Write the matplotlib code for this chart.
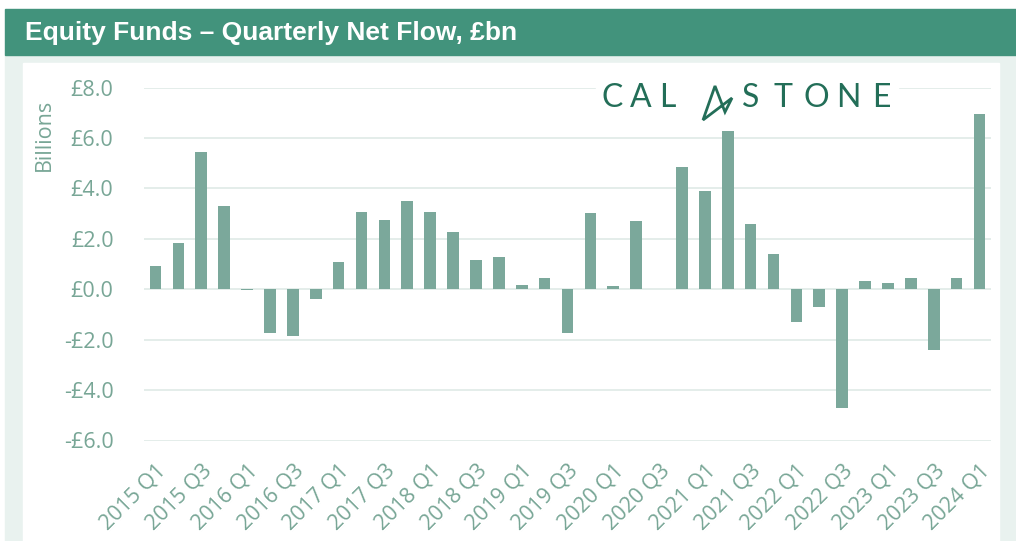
"""Equity Funds - Quarterly Net Flow (Calastone style bar chart)."""

import matplotlib

matplotlib.use("Agg")
import matplotlib.pyplot as plt
from matplotlib.patches import Polygon, Rectangle

# quarterly net flow, £bn
quarters = [f"{y} Q{q}" for y in range(2015, 2025) for q in (1, 2, 3, 4)][:37]
net_flow = [
    0.94, 1.84, 5.45, 3.32,      # 2015
    -0.03, -1.75, -1.85, -0.38,  # 2016
    1.08, 3.08, 2.76, 3.49,      # 2017
    3.08, 2.29, 1.15, 1.28,      # 2018
    0.18, 0.44, -1.72, 3.04,     # 2019
    0.12, 2.70, 0.0, 4.87,       # 2020
    3.89, 6.27, 2.59, 1.39,      # 2021
    -1.28, -0.69, -4.71, 0.33,   # 2022
    0.26, 0.44, -2.42, 0.44,     # 2023
    6.96,                        # 2024
]
y_ticks = [-6, -4, -2, 0, 2, 4, 6, 8]

HEADER_GREEN = "#42937C"
PANEL_BG = "#E9F2EF"
BAR_GREEN = "#7BA89B"
TEXT_GREEN = "#78A696"
GRID = "#E2ECE8"
LOGO_GREEN = "#236E58"

W, H = 1016, 541
fig = plt.figure(figsize=(W / 100, H / 100), dpi=100)


def pixel_axes(zorder):
    """Full-figure axes in pixel coords (y down) for decoration."""
    a = fig.add_axes([0, 0, 1, 1], zorder=zorder)
    a.set_xlim(0, W)
    a.set_ylim(H, 0)
    a.axis("off")
    return a


# header band + light panel + white chart area
bg = pixel_axes(-10)
bg.add_patch(Rectangle((5, 55), W - 5, H - 55, color=PANEL_BG))
bg.add_patch(Rectangle((23, 63), 999 - 23, H - 63, color="white"))
bg.add_patch(Rectangle((5, 9), W - 5, 46, color=HEADER_GREEN))
bg.text(25, 33, "Equity Funds \u2013 Quarterly Net Flow, \u00a3bn",
        color="white", fontsize=19, fontweight="bold", family="Liberation Sans",
        va="center", ha="left")

ax = fig.add_axes([144 / W, 1 - 440.5 / H, (991 - 144) / W, (440.5 - 87.7) / H], zorder=1)
ax.set_facecolor("none")
x = list(range(len(net_flow)))
ax.bar(x, net_flow, width=0.51, color=BAR_GREEN, zorder=3)
ax.set_xlim(-0.5, len(net_flow) - 0.5)
ax.set_ylim(-6, 8)
ax.set_yticks(y_ticks)
ax.set_yticklabels([f"\u00a3{v:.1f}" if v >= 0 else f"-\u00a3{abs(v):.1f}" for v in y_ticks],
                   family="Open Sans", fontsize=15.5, color=TEXT_GREEN)
ax.yaxis.grid(True, color=GRID, lw=1.3, zorder=0)
ax.set_xticks(x[::2])
ax.set_xticklabels(quarters[::2], rotation=45, ha="right", va="top", rotation_mode="anchor",
                   family="Open Sans", fontsize=15.5, color=TEXT_GREEN)
ax.tick_params(length=0, axis="y", pad=22)
ax.tick_params(length=0, axis="x", pad=14)
for s in ax.spines.values():
    s.set_visible(False)
ax.set_ylabel("Billions", family="Open Sans", fontsize=15.5, color=TEXT_GREEN)
ax.yaxis.set_label_coords(-0.105, 0.866)

# logo: white backing over the top gridline, spaced letters, stylised "A" mark
fg = pixel_axes(5)
fg.add_patch(Rectangle((596, 80), 302, 36, color="white", zorder=1))
logo = [("C", 612), ("A", 641), ("L", 667), ("S", 751), ("T", 783),
        ("O", 816), ("N", 848), ("E", 881)]
for ch, cx in logo:
    fg.text(cx, 98, ch, color=LOGO_GREEN, fontsize=23, family="Lato",
            ha="center", va="center", zorder=2)
fg.add_patch(Polygon([(703, 120), (715, 86), (725, 112), (732, 98)], closed=True,
                     fill=False, edgecolor=LOGO_GREEN, lw=2.0, joinstyle="miter", zorder=2))

fig.savefig("out.png", dpi=100)
